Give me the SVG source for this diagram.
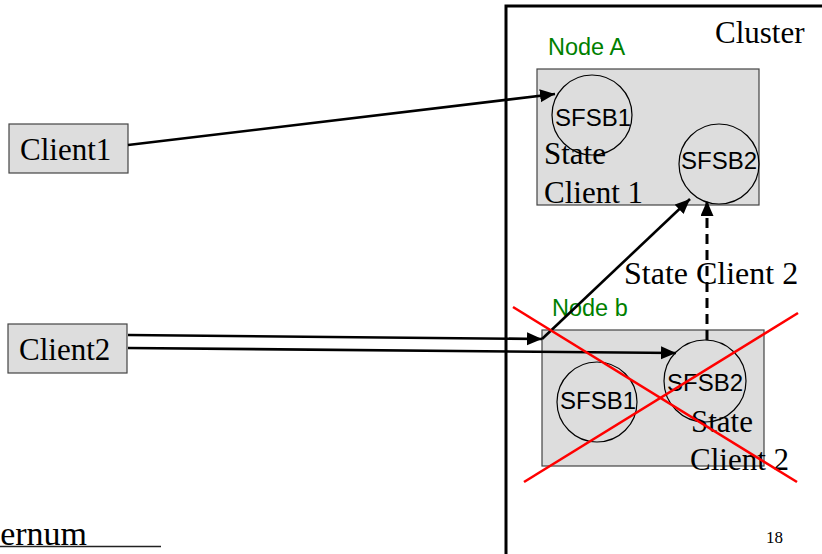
<svg xmlns="http://www.w3.org/2000/svg" width="822" height="554" viewBox="0 0 822 554">
<style>
.box{fill:#dddddd;stroke:#444;stroke-width:1.2}
.circ{fill:none;stroke:#000;stroke-width:1.2}
.serif{font-family:"Liberation Serif","Times New Roman",serif;font-size:31px;fill:#000}
.sans{font-family:"Liberation Sans",Arial,sans-serif;font-size:24px;fill:#000}
.green{font-family:"Liberation Sans",Arial,sans-serif;font-size:23.5px;fill:#008000}
.conn{fill:none;stroke:#000;stroke-width:2.6}
.dash{stroke-dasharray:10 6;stroke-width:3}
.cross{stroke:#ff0000;stroke-width:2.6;fill:none}
</style>
<defs>
<marker id="arr" markerUnits="userSpaceOnUse" markerWidth="16" markerHeight="14" refX="15" refY="6.5" orient="auto">
<path d="M0,0 L15,6.5 L0,13 z" fill="#000"/>
</marker>
</defs>
<rect width="822" height="554" fill="#fff"/>
<g id="cluster">
<rect x="506" y="6" width="330" height="600" fill="none" stroke="#000" stroke-width="3"/>
<text class="serif" x="715" y="43">Cluster</text>
</g>
<g id="nodeA">
<text class="green" x="548" y="55">Node A</text>
<rect class="box" x="537" y="69" width="222" height="136"/>
</g>
<g id="nodeA-sfsb1">
<circle class="circ" cx="592" cy="115" r="40"/>
<text class="sans" x="593" y="126" text-anchor="middle">SFSB1</text>
</g>
<g id="nodeA-sfsb2">
<circle class="circ" cx="719" cy="164" r="40"/>
<text class="sans" x="719" y="169" text-anchor="middle">SFSB2</text>
</g>
<g id="nodeA-state">
<text class="serif" x="544" y="164">State</text>
<text class="serif" x="544" y="203">Client 1</text>
</g>
<g id="nodeB">
<text class="green" x="552" y="316">Node b</text>
<rect class="box" x="542" y="330" width="222" height="136"/>
</g>
<g id="nodeB-sfsb1">
<circle class="circ" cx="597" cy="402" r="40"/>
<text class="sans" x="598" y="409" text-anchor="middle">SFSB1</text>
</g>
<g id="nodeB-sfsb2">
<circle class="circ" cx="705" cy="381" r="41"/>
<text class="sans" x="705" y="391" text-anchor="middle">SFSB2</text>
</g>
<g id="nodeB-state">
<text class="serif" x="691" y="432">State</text>
<text class="serif" x="690" y="470">Client 2</text>
</g>
<g id="client1">
<rect class="box" x="9" y="124" width="119" height="49"/>
<text class="serif" x="20" y="160">Client1</text>
</g>
<g id="client2">
<rect class="box" x="8" y="324" width="119" height="49"/>
<text class="serif" x="19" y="360">Client2</text>
</g>
<g id="connectors">
<line class="conn" x1="128" y1="145" x2="555" y2="94" marker-end="url(#arr)"/>
<line class="conn" x1="128" y1="335" x2="542" y2="339" marker-end="url(#arr)"/>
<line class="conn" x1="542" y1="339" x2="690" y2="199" marker-end="url(#arr)"/>
<line class="conn" x1="128" y1="348" x2="676" y2="353" marker-end="url(#arr)"/>
<line class="conn dash" x1="707" y1="340" x2="707" y2="201" marker-end="url(#arr)"/>
<text class="serif" x="624" y="284" style="font-size:32px">State Client 2</text>
</g>
<g id="cross">
<line class="cross" x1="513" y1="307" x2="797" y2="482"/>
<line class="cross" x1="524" y1="482" x2="798" y2="313"/>
</g>
<g id="footer">
<text class="serif" x="87" y="545" text-anchor="end" style="font-size:34px">ernum</text>
<line x1="0" y1="546.5" x2="161" y2="546.5" stroke="#222" stroke-width="1.5"/>
<text class="serif" x="766" y="543" style="font-size:17px">18</text>
</g>
</svg>
